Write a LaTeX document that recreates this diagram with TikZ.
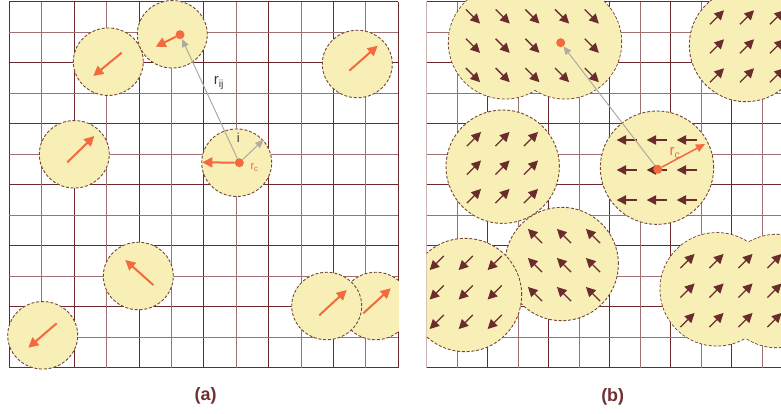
\documentclass[tikz,border=0pt]{standalone}
\usepackage{fontspec}
\setmainfont{Liberation Sans}
\usetikzlibrary{shapes.geometric, arrows.meta}
\definecolor{gridred}{RGB}{108,40,42}
\definecolor{gridpink}{RGB}{158,112,114}
\definecolor{blobfill}{RGB}{247,239,182}
\definecolor{blobline}{RGB}{115,70,56}
\definecolor{spinorange}{RGB}{242,106,62}
\definecolor{spinbrown}{RGB}{107,44,46}
\definecolor{distgray}{RGB}{176,170,160}
\definecolor{labelgray}{RGB}{60,55,55}
\definecolor{labelred}{RGB}{112,48,50}
\tikzstyle{gridline} = [
    gridred,
    line width=0.9bp
]
\tikzstyle{gridlight} = [
    gridpink,
    line width=0.9bp
]
\tikzstyle{particle} = [
    ellipse,
    minimum width=70bp,
    minimum height=67.5bp,
    inner sep=0pt,
    fill=blobfill,
    draw=blobline,
    line width=0.9bp,
    dash pattern=on 3bp off 1.8bp
]
\tikzstyle{cluster} = [
    circle,
    minimum size=113.4bp,
    inner sep=0pt,
    fill=blobfill,
    draw=blobline,
    line width=0.9bp,
    dash pattern=on 3bp off 1.8bp
]
\tikzstyle{clusterfill} = [fill=blobfill]
\tikzstyle{spin} = [spinorange, line width=2bp, -{Triangle[length=10bp,width=10bp]}]
\tikzstyle{field} = [spinbrown, line width=1.3bp, -{Triangle[length=9.5bp,width=9.5bp]}]
\tikzstyle{pairline} = [distgray, line width=1bp, -{Triangle[length=8bp,width=7bp]}]
\tikzstyle{dot} = [
    circle,
    fill=spinorange,
    minimum size=9bp,
    inner sep=0pt
]
\tikzstyle{caption} = [text=labelred, font=\bfseries\fontsize{18}{20}\selectfont]

\begin{document}
\begin{tikzpicture}[x=1bp, y=-1bp]
\useasboundingbox (0,0) rectangle (781,413);

\begin{scope}
\clip (0,0) rectangle (398.8,413);
\foreach \k in {0,2,...,12} {
    \draw [gridline] ({9.3+32.42*\k},1.7) -- ({9.3+32.42*\k},367.7);
    \draw [gridline] (9.3,{1.7+30.5*\k}) -- (398.3,{1.7+30.5*\k});
}
\foreach \k in {1,3,...,11} {
    \draw [gridlight] ({9.3+32.42*\k},1.7) -- ({9.3+32.42*\k},367.7);
    \draw [gridlight] (9.3,{1.7+30.5*\k}) -- (398.3,{1.7+30.5*\k});
}

\node (a2) [particle] at (108.3,61.7) {};
\node (a1) [particle] at (172.3,34.3) {};
\node (a3) [particle] at (357.3,64) {};
\node (a4) [particle] at (74.3,154.3) {};
\node (a5) [particle] at (236.7,162.7) {};
\node (a6) [particle] at (138.3,276) {};
\node (a7) [particle] at (42.7,335.3) {};
\node (a9) [particle] at (375.7,306) {};
\node (a8) [particle] at (326.7,306) {};

\draw [spin] (121.7,52.7) -- (93.3,76);
\draw [spin] (349.3,70.7) -- (377.7,45.7);
\draw [spin] (67.3,162.3) -- (94.3,136);
\draw [spin] (153.3,285) -- (125.3,260);
\draw [spin] (56.7,323.3) -- (28.3,347.7);
\draw [spin] (363.3,313.3) -- (390.7,288.3);
\draw [spin] (319.3,315.3) -- (346.7,290);

\node (dotaj) [dot] at (180,34.7) {};
\node (dotai) [dot] at (239.3,162.7) {};
\coordinate (spinai) at (202.3,162.3);
\coordinate (spinaj) at (155.7,46.7);
\coordinate (rca) at (263.3,140);
\draw [spin] (dotaj) -- (spinaj);
\draw [spin] (dotai) -- (spinai);
\draw [pairline] (dotai) -- (rca);
\draw [pairline] (dotai) -- (dotaj);

\node (ilabel) [text=labelgray, font=\fontsize{13}{13}\selectfont] at (238.3,137.5) {i};
\node (rijlabel) [text=labelgray, font=\fontsize{15}{15}\selectfont] at (219,83) {r\textsubscript{ij}};
\node (rcalabel) [text=spinorange, font=\fontsize{11}{11}\selectfont] at (254.5,167.5) {r\textsubscript{c}};
\end{scope}

\begin{scope}
\clip (426.7,0) rectangle (781,413);
\foreach \k in {0,2,...,12} {
    \draw [gridline] ({426.7+30.5*\k},1.7) -- ({426.7+30.5*\k},367.7);
    \draw [gridline] (426.7,{1.7+30.5*\k}) -- (781,{1.7+30.5*\k});
}
\foreach \k in {1,3,...,11} {
    \draw [gridlight] ({426.7+30.5*\k},1.7) -- ({426.7+30.5*\k},367.7);
    \draw [gridlight] (426.7,{1.7+30.5*\k}) -- (781,{1.7+30.5*\k});
}

\node (b1l) [cluster] at (505,42.3) {};
\node (b1r) [cluster] at (565,42.3) {};
\fill [clusterfill] (b1l.center) circle [radius=56.2];
\fill [clusterfill] (b1r.center) circle [radius=56.2];
\node (b2) [cluster] at (746,45) {};
\node (b3) [cluster] at (502.7,166.7) {};
\node (b4) [cluster] at (657,167.7) {};
\node (b6) [cluster] at (561.7,264) {};
\node (b5) [cluster] at (465,295) {};
\node (b7l) [cluster] at (716.7,289.3) {};
\node (b7r) [cluster] at (777,291) {};
\fill [clusterfill] (b7l.center) circle [radius=56.2];
\fill [clusterfill] (b7r.center) circle [radius=56.2];

\foreach \i/\j in {0/0,1/0,2/0,3/0,4/0,0/1,1/1,2/1,4/1,0/2,1/2,2/2,3/2,4/2}
    \draw [field] ({473+29.7*\i},{16.5+29.3*\j}) ++(45:-10) -- ++(45:20);
\foreach \i in {0,1,2}
    \foreach \j in {0,1,2} {
        \draw [field] ({717+30*\i},{17.3+29*\j}) ++(-45:-10) -- ++(-45:20);
        \draw [field] ({474+28.5*\i},{139+28.5*\j}) ++(-45:-10) -- ++(-45:20);
        \draw [field] ({626.7+30*\i},{140+30*\j}) ++(180:-10) -- ++(180:20);
        \draw [field] ({535+29*\i},{236+29*\j}) ++(225:-10) -- ++(225:20);
        \draw [field] ({436.7+29*\i},{263+29.5*\j}) ++(135:-10) -- ++(135:20);
    }
\foreach \i in {0,...,3}
    \foreach \j in {0,1,2}
        \draw [field] ({687.5+29*\i},{261+29.5*\j}) ++(-45:-10) -- ++(-45:20);

\node (dotbj) [dot] at (560.7,42.7) {};
\node (dotbi) [dot] at (657.7,169.3) {};
\coordinate (rcb) at (705,144);
\draw [pairline] (dotbi) -- (dotbj);
\draw [spin, line width=1.5bp, -{Triangle[length=9bp,width=8bp]}] (dotbi) -- (rcb);
\node (rcblabel) [text=spinorange, font=\fontsize{15}{15}\selectfont] at (675,153) {r\textsubscript{c}};
\end{scope}

\node (capa) [caption] at (205.7,396) {(a)};
\node (capb) [caption] at (612.7,396.5) {(b)};

\end{tikzpicture}
\end{document}
